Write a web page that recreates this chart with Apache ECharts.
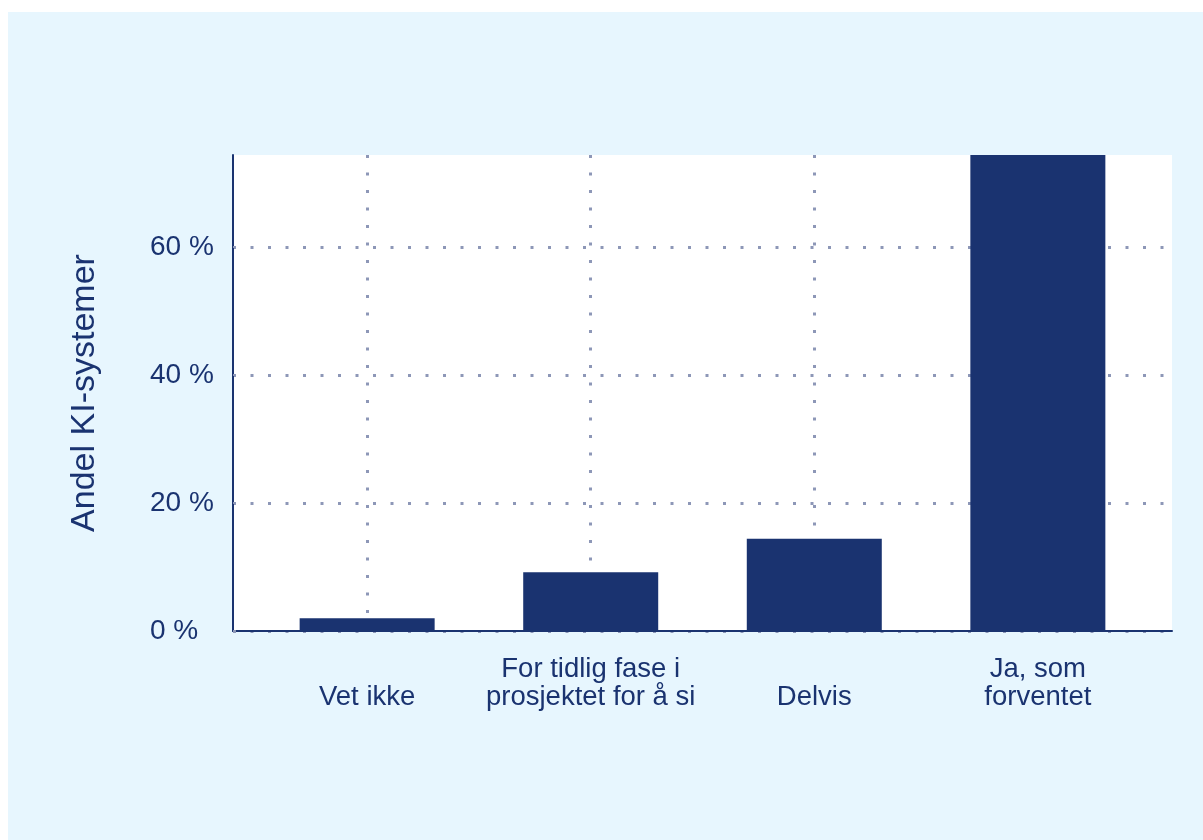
<!DOCTYPE html>
<html>
<head>
<meta charset="utf-8">
<script src="https://cdn.jsdelivr.net/npm/echarts@6/dist/echarts.min.js"></script>
<style>
html,body{margin:0;padding:0;background:#ffffff;width:1203px;height:840px;overflow:hidden;}
#chart{position:absolute;left:8px;top:12px;width:1195px;height:828px;background:#e7f6fe;}
</style>
</head>
<body>
<div id="chart"></div>
<script>
const categories = ['Vet ikke', 'For tidlig fase i\nprosjektet for å si', 'Delvis', 'Ja, som\nforventet'];
const values = [2.0, 9.2, 14.4, 74.4];
const yTicks = [0, 20, 40, 60];
const yMax = 74.4;

const navy = '#1a3370';
const dotColor = '#8d97b7';
const font = 'Liberation Sans, Arial, sans-serif';
const positions = categories.map((c, i) => i);

const chart = echarts.init(document.getElementById('chart'), null, {renderer: 'canvas'});
chart.setOption({
  backgroundColor: 'transparent',
  animation: false,
  textStyle: {fontFamily: font},
  grid: {left: 225, top: 143, right: 31, bottom: 209, show: true, backgroundColor: '#ffffff', borderWidth: 0},
  xAxis: {
    type: 'value',
    min: -0.6,
    max: 3.6,
    axisLine: {show: true, onZero: false, lineStyle: {color: navy, width: 2}},
    axisTick: {show: false, customValues: positions},
    axisLabel: {
      customValues: positions,
      formatter: v => categories[Math.round(v)],
      color: navy,
      fontSize: 27.5,
      lineHeight: 28,
      verticalAlign: 'bottom',
      margin: 80,
      fontFamily: font
    },
    splitLine: {show: true, lineStyle: {color: dotColor, width: 3, type: [3, 14.5]}}
  },
  yAxis: {
    type: 'value',
    min: 0,
    max: yMax,
    interval: 20,
    name: 'Andel KI-systemer',
    nameLocation: 'middle',
    nameRotate: 90,
    nameGap: 131,
    nameTextStyle: {color: navy, fontSize: 34, fontFamily: font},
    axisLine: {show: true, onZero: false, lineStyle: {color: navy, width: 2}},
    axisTick: {show: true, inside: true, length: 3, lineStyle: {color: dotColor, width: 2}, customValues: yTicks},
    axisLabel: {
      customValues: yTicks,
      formatter: '{value} %',
      color: navy,
      fontSize: 28,
      align: 'left',
      margin: 83,
      fontFamily: font
    },
    splitLine: {show: true, lineStyle: {color: dotColor, width: 3, type: [3, 14.5]}}
  },
  series: [{
    type: 'bar',
    data: values.map((v, i) => [positions[i], v]),
    barWidth: 135,
    itemStyle: {color: navy},
    z: 3
  }]
});
</script>
</body>
</html>
